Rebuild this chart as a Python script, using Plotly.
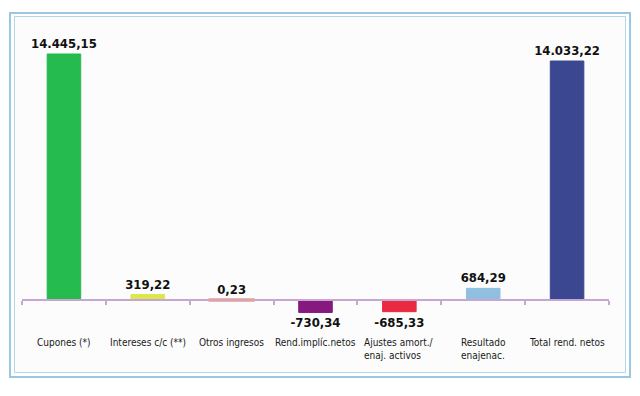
import plotly.graph_objects as go

categories = ["Cupones (*)", "Intereses c/c (**)", "Otros ingresos", "Rend.implíc.netos",
              "Ajustes amort./<br>enaj. activos", "Resultado<br>enajenac.", "Total rend. netos"]
values = [14445.15, 319.22, 0.23, -730.34, -685.33, 684.29, 14033.22]
colors = ["#25bb4f", "#dbe74c", "#f26b2b", "#86187f", "#ea2a40", "#8fc0df", "#3b4791"]

W, H = 640, 396
L, R, T, B = 22, 609, 40, 320  # plot area in px
zero_px, top_px = 300, 54
upp = max(values) / (zero_px - top_px)
ymax = max(values) + (top_px - T) * upp
ymin = -(B - zero_px) * upp

def px(x):
    return (x - L) / (R - L)

def py(y):
    return (B - y) / (B - T)

font_fam = "DejaVu Sans Condensed, Liberation Sans Narrow, sans-serif"
xs = list(range(len(categories)))

fig = go.Figure()
fig.add_trace(go.Bar(
    x=xs, y=values,
    marker=dict(color=colors, line=dict(color=colors, width=1)),
    texttemplate="%{y:,.2f}", textposition="outside", cliponaxis=False,
    constraintext="none",
    textfont=dict(family=font_fam, size=13, color="#111111", weight="bold"),
    width=0.4, hoverinfo="skip",
))

# near-zero bars are too thin to render as bars; mark them with a thin flat marker
tiny = [(i, v) for i, v in enumerate(values) if abs(v) < upp]
fig.add_trace(go.Scatter(
    x=[t[0] for t in tiny], y=[t[1] for t in tiny], mode="markers",
    marker=dict(symbol="line-ew", size=33, line=dict(color=[colors[t[0]] for t in tiny], width=3)),
    cliponaxis=False, hoverinfo="skip",
))

for i, c in enumerate(categories):
    fig.add_annotation(x=i, y=py(335), xref="x", yref="paper", text=c,
                       showarrow=False, yanchor="top", xanchor="center", align="left",
                       font=dict(family=font_fam, size=10, color="#1a1a1a"))

frame = "#9cc6e2"
fig.add_shape(type="rect", xref="paper", yref="paper",
              x0=px(10), x1=px(630), y0=py(377), y1=py(13),
              line=dict(color=frame, width=2), layer="below")
fig.add_shape(type="rect", xref="paper", yref="paper",
              x0=px(14.5), x1=px(625.5), y0=py(372.5), y1=py(16.5),
              line=dict(color="#b4d4ea", width=1), fillcolor="#fcfcfc", layer="below")

fig.update_layout(
    width=W, height=H,
    margin=dict(l=L, r=W - R, t=T, b=H - B),
    paper_bgcolor="white", plot_bgcolor="rgba(0,0,0,0)",
    separators=",.", showlegend=False,
    xaxis=dict(type="linear", range=[-0.5, 6.5], anchor="free", position=py(zero_px),
               showline=True, linecolor="#c7a6d2", linewidth=2, ticks="outside",
               tickmode="array", tickvals=[i - 0.5 for i in range(len(categories) + 1)],
               ticklen=4, tickcolor="#c7a6d2", tickwidth=1.5,
               showticklabels=False, showgrid=False, zeroline=False, fixedrange=True),
    yaxis=dict(range=[ymin, ymax], visible=False, fixedrange=True),
)

fig.write_html("out.html", config={"displayModeBar": False},
               post_script="document.body.style.margin='0';")
